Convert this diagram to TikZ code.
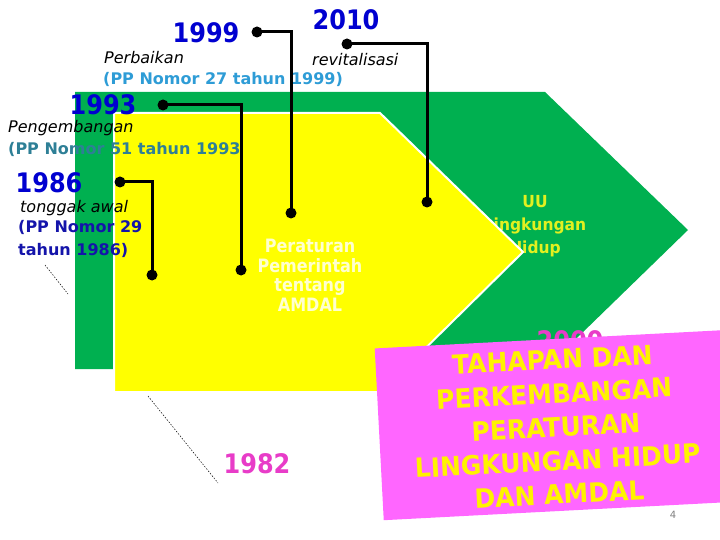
\documentclass[tikz,border=0pt]{standalone}
\usepackage{fontspec}
\setmainfont{DejaVu Sans}
\usetikzlibrary{positioning}
\usetikzlibrary{calc}

\definecolor{arrowgreen}{HTML}{00B050}
\definecolor{arrowyellow}{HTML}{FFFF00}
\definecolor{notepink}{HTML}{FF66FF}
\definecolor{yearblue}{HTML}{0000D0}
\definecolor{skyblue}{HTML}{2E9CD6}
\definecolor{tealblue}{HTML}{2E7F96}
\definecolor{navyblue}{HTML}{1414AA}
\definecolor{yearpink}{HTML}{E83CC8}
\definecolor{palewhite}{HTML}{FFFFD0}
\definecolor{limeyellow}{HTML}{E2F020}

% stretched text, centred lines
\newcommand{\tallstack}[2]{\scalebox{1}[#1]{\begin{tabular}{@{}c@{}}#2\end{tabular}}}
\newcommand{\tallyear}[1]{\scalebox{1}[1.12]{#1}}

\begin{document}
\begin{tikzpicture}[x=1pt,y=-1pt,
  year/.style={font=\fontsize{24}{28}\selectfont\bfseries, text=yearblue, inner sep=0pt},
  phase/.style={font=\fontsize{16}{19}\selectfont\itshape, anchor=base west, inner sep=0pt},
  ppnote/.style={font=\fontsize{16}{19}\selectfont\bfseries, anchor=base west, inner sep=0pt},
  knob/.style={circle, fill=black, inner sep=0pt, minimum size=11pt},
  link/.style={line width=3pt},
  hint/.style={line width=0.5pt, dash pattern=on 1.5pt off 1.5pt}]
\useasboundingbox (0,0) rectangle (720,540);

\fill[arrowgreen] (75,92) -- (545,92) -- (688,230) -- (545,369) -- (75,369) -- cycle;
\node (uu) [font=\fontsize{15.5}{21.5}\selectfont\bfseries, text=limeyellow, inner sep=0pt] at (535,225.5)
  {\tallstack{1.07}{UU\\Lingkungan\\Hidup}};
\filldraw[fill=arrowyellow, draw=white, line width=2pt] (114,113) -- (380,113) -- (523,252) -- (381,392) -- (114,392) -- cycle;
\node (pp) [font=\fontsize{16}{17}\selectfont\bfseries, text=palewhite, inner sep=0pt] at (310,278)
  {\tallstack{1.15}{Peraturan\\Pemerintah\\tentang\\AMDAL}};

\node (y1999) [year] at (206,33) {\tallyear{1999}};
\node (y2010) [year] at (346,20) {\tallyear{2010}};
\node (y1993) [year] at (103,105) {\tallyear{1993}};
\node (y1986) [year] at (49,183) {\tallyear{1986}};
\node (y1982) [year, text=yearpink] at (257,464) {\tallyear{1982}};
\node (y2000) [year, text=yearpink] at (570,341) {\tallyear{2000}};

\node (perbaikan) [phase] at (104,64) {Perbaikan};
\node (revital)   [phase] at (312,66) {revitalisasi};
\node (pengemb)   [phase] at (8,133)  {Pengembangan};
\node (tonggak)   [phase] at (20,213) {tonggak awal};
\node (pp99)  [ppnote, text=skyblue]  at (103,85) {(PP Nomor 27 tahun 1999)};
\node (pp93)  [ppnote, text=tealblue] at (8,155)  {(PP Nomor 51 tahun 1993};
\node (pp86a) [ppnote, text=navyblue] at (18,233) {(PP Nomor 29};
\node (pp86b) [ppnote, text=navyblue] at ($(pp86a.base west)+(0,22)$) {tahun 1986)};

\node (k99a) [knob] at (257,32)  {};
\node (k99b) [knob] at (291,213) {};
\node (k10a) [knob] at (347,44)  {};
\node (k10b) [knob] at (427,202) {};
\node (k93a) [knob] at (163,105) {};
\node (k93b) [knob] at (241,270) {};
\node (k86a) [knob] at (120,182) {};
\node (k86b) [knob] at (152,275) {};

\draw[link] (k99a.center) -| (k99b.center);
\draw[link] (k10a.center) -| (k10b.center);
\draw[link] (k93a.center) -| (k93b.center);
\draw[link] (k86a.center) -| (k86b.center);

\coordinate (h86a) at (45,265);
\coordinate (h86b) at (68,294);
\coordinate (h82a) at (148,396);
\coordinate (h82b) at (218,483);
\draw[hint] (h86a) -- (h86b);
\draw[hint] (h82a) -- (h82b);

\node (banner) [fill=notepink, rotate=3, minimum width=356pt, minimum height=172pt, inner sep=0pt] at (557,425) {};
\node (title) [rotate=3, font=\fontsize{25}{31.8}\selectfont\bfseries, text=yellow, inner sep=0pt] at (556,430)
  {\tallstack{1.06}{TAHAPAN DAN\\PERKEMBANGAN\\PERATURAN\\LINGKUNGAN HIDUP\\DAN AMDAL}};
\node (page) [font=\fontsize{10}{12}\selectfont, text=gray] at (673,515) {4};
\end{tikzpicture}
\end{document}
